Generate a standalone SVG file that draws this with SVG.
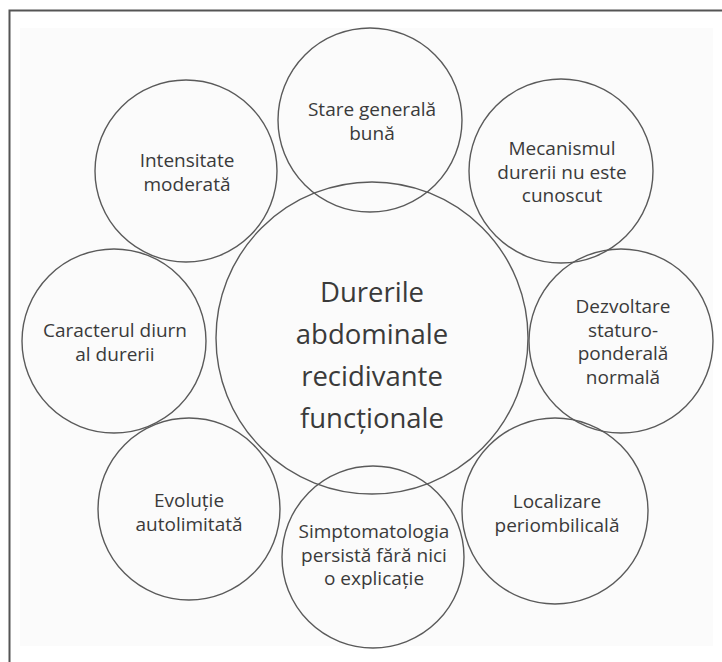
<svg xmlns="http://www.w3.org/2000/svg" width="722" height="662" viewBox="0 0 722 662">
<style>
.c{fill:none;stroke:#5a5a5a;stroke-width:1.4}
.t{font-family:"Open Sans","DejaVu Sans",sans-serif;font-size:19px;font-weight:500;fill:#3a3a3a;text-anchor:middle}
.big{font-size:27.5px}
</style>
<rect x="0" y="0" width="722" height="662" fill="#ffffff"/>
<rect x="20" y="28" width="693" height="618" fill="#fbfbfb"/>
<path d="M9.5 662 V10.5 H722" fill="none" stroke="#555" stroke-width="2"/>
<g id="center">
<circle class="c" cx="372" cy="338" r="156"/>
<text class="t big"><tspan x="372" y="302">Durerile</tspan><tspan x="372" y="344">abdominale</tspan><tspan x="372" y="386">recidivante</tspan><tspan x="372" y="428">funcționale</tspan></text>
</g>
<g id="n-stare">
<circle class="c" cx="370" cy="120" r="92"/>
<text class="t"><tspan x="372" y="116">Stare generală</tspan><tspan x="372" y="139.5">bună</tspan></text>
</g>
<g id="n-mecanism">
<circle class="c" cx="561" cy="171" r="92"/>
<text class="t"><tspan x="562" y="155">Mecanismul</tspan><tspan x="562" y="178.5">durerii nu este</tspan><tspan x="562" y="202">cunoscut</tspan></text>
</g>
<g id="n-dezvoltare">
<circle class="c" cx="621" cy="341" r="92"/>
<text class="t"><tspan x="623" y="313">Dezvoltare</tspan><tspan x="623" y="336.5">staturo-</tspan><tspan x="623" y="360">ponderală</tspan><tspan x="623" y="383.5">normală</tspan></text>
</g>
<g id="n-localizare">
<circle class="c" cx="555" cy="511" r="93"/>
<text class="t"><tspan x="557" y="508">Localizare</tspan><tspan x="557" y="531.5">periombilicală</tspan></text>
</g>
<g id="n-simptomatologia">
<circle class="c" cx="373" cy="557" r="91"/>
<text class="t"><tspan x="374" y="538">Simptomatologia</tspan><tspan x="374" y="561.5">persistă fără nici</tspan><tspan x="374" y="585">o explicație</tspan></text>
</g>
<g id="n-evolutie">
<circle class="c" cx="189" cy="509" r="91"/>
<text class="t"><tspan x="189" y="507">Evoluție</tspan><tspan x="189" y="530.5">autolimitată</tspan></text>
</g>
<g id="n-caracterul">
<circle class="c" cx="114" cy="341" r="92"/>
<text class="t"><tspan x="115" y="337">Caracterul diurn</tspan><tspan x="115" y="361">al durerii</tspan></text>
</g>
<g id="n-intensitate">
<circle class="c" cx="186" cy="171" r="91"/>
<text class="t"><tspan x="187" y="167">Intensitate</tspan><tspan x="187" y="191">moderată</tspan></text>
</g>
<g id="connectors"></g>
</svg>
